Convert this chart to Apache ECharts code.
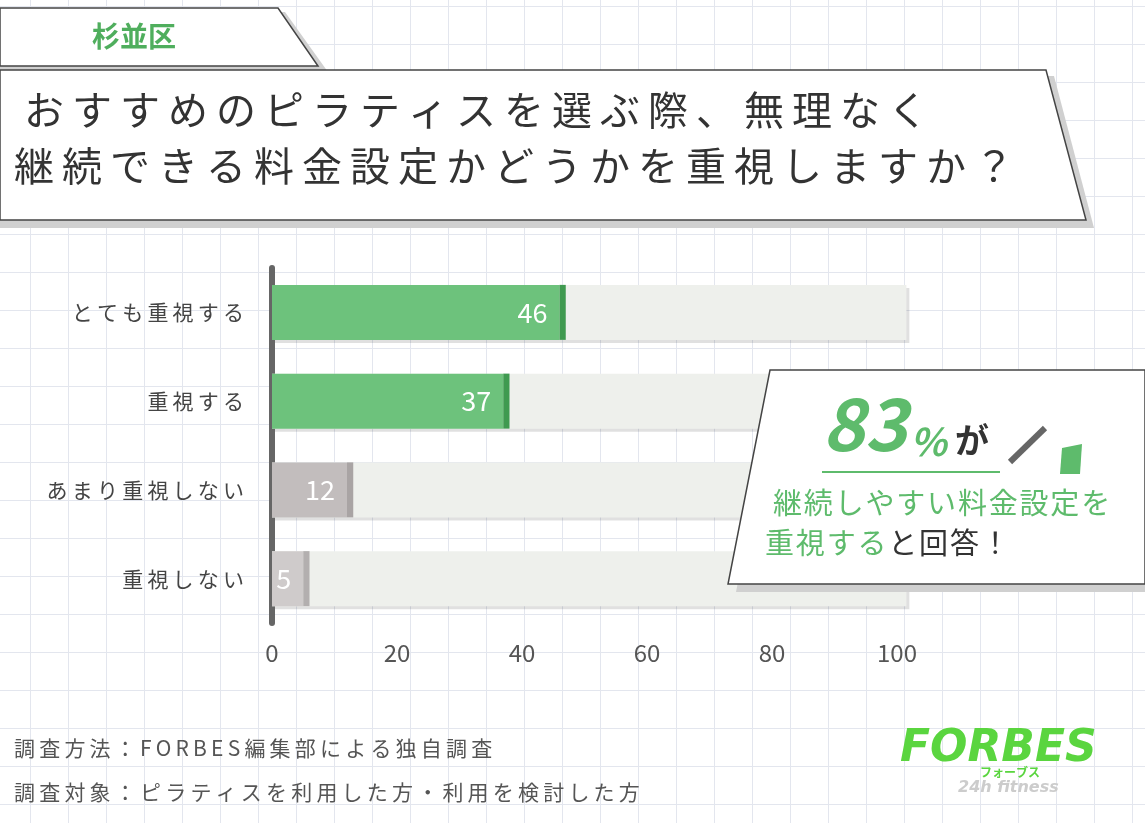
<!DOCTYPE html>
<html><head><meta charset="utf-8">
<script src="https://cdn.jsdelivr.net/npm/echarts@6/dist/echarts.min.js"></script>
<style>
html,body{margin:0;padding:0;}
#c{width:1145px;height:823px;background-color:#fff;
background-image:linear-gradient(#e3e6ee 1px,transparent 1px),linear-gradient(90deg,#e3e6ee 1px,transparent 1px);
background-size:38px 38px;background-position:-8px 6px;}
</style></head><body><div id="c"></div>
<script>
const categories=['とても重視する','重視する','あまり重視しない','重視しない'];
const values=[46,37,12,5];
const totals=[100,100,100,100];
const ticks=[0,20,40,60,80,100];
const fill=['#6dc27c','#6dc27c','#c2bdbd','#cfcbcb'];
const cap=['#3f9a50','#3f9a50','#a9a4a4','#b3afaf'];
const ch=echarts.init(document.getElementById('c'));
const F='"Noto Sans CJK JP"';
const sp=s=>Array.from(s).join('\u2009');
const hs=s=>Array.from(s).join('\u200A');
const G=(o)=>Object.assign({z:100},o);
ch.setOption({
 animation:false,
 grid:{left:272,right:248,top:268,bottom:200},
 xAxis:{type:'value',min:0,max:100,interval:20,splitLine:{show:false},axisLine:{show:false},axisTick:{show:false},
  axisLabel:{fontFamily:F,fontSize:24,color:'#555',margin:18}},
 yAxis:{type:'category',inverse:true,data:categories,
  axisLine:{lineStyle:{color:'#666',width:6}},axisTick:{show:false},
  axisLabel:{fontFamily:F,fontSize:21,color:'#444',margin:28,formatter:v=>sp(v)}},
 series:[
  {type:'bar',clip:false,data:totals.map(v=>v+1.5),barWidth:55,barGap:'-100%',z:1,silent:true,
   itemStyle:{color:'#eef0ec',shadowColor:'rgba(0,0,0,0.12)',shadowOffsetX:3,shadowOffsetY:3}},
  {type:'bar',stack:'s',barWidth:55,z:2,data:values.map((v,i)=>({value:v,itemStyle:{color:fill[i]}})),
   label:{show:true,position:'insideRight',color:'#fff',fontFamily:F,fontSize:27,distance:12}},
  {type:'bar',stack:'s',barWidth:55,z:2,data:values.map((v,i)=>({value:1,itemStyle:{color:cap[i]}}))}
 ],
 graphic:[
  G({type:'polygon',shape:{points:[[0,12],[285,12],[328,72],[0,72]]},style:{fill:'#d0d0d0'}}),
  G({type:'polygon',shape:{points:[[0,8],[278,8],[318,66],[0,66]]},style:{fill:'#fff',stroke:'#444',lineWidth:1.5}}),
  G({type:'text',left:92,top:22,style:{text:'杉並区',fill:'#4fae5d',font:'bold 28px '+F}}),
  G({type:'polygon',shape:{points:[[0,76],[1054,76],[1094,228],[0,228]]},style:{fill:'#d0d0d0'}}),
  G({type:'polygon',shape:{points:[[0,70],[1046,70],[1086,220],[0,220]]},style:{fill:'#fff',stroke:'#444',lineWidth:1.5}}),
  G({type:'text',left:24,top:90,style:{text:sp('おすすめのピラティスを選ぶ際、無理なく'),fill:'#333',font:'40px '+F}}),
  G({type:'text',left:14,top:146,style:{text:sp('継続できる料金設定かどうかを重視しますか？'),fill:'#333',font:'40px '+F}}),
  G({type:'polygon',shape:{points:[[778,378],[1145,378],[1145,592],[736,592]]},style:{fill:'#d0d0d0'}}),
  G({type:'polygon',shape:{points:[[770,370],[1145,370],[1145,584],[728,584]]},style:{fill:'#fff',stroke:'#444',lineWidth:1.5}}),
  G({type:'text',left:822,top:388,style:{text:'83',fill:'#5ebb6c',font:'italic bold 72px '+F}}),
  G({type:'text',left:910,top:423,style:{text:'%',fill:'#5ebb6c',font:'italic bold 38px '+F}}),
  G({type:'text',left:955,top:423,style:{text:'が',fill:'#333',font:'bold 34px '+F}}),
  G({type:'line',shape:{x1:822,y1:472,x2:1000,y2:472},style:{stroke:'#5ebb6c',lineWidth:2}}),
  G({type:'polygon',shape:{points:[[1062,448],[1082,444],[1080,474],[1060,474]]},style:{fill:'#5ebb6c'}}),
  G({type:'line',shape:{x1:1010,y1:462,x2:1045,y2:428},style:{stroke:'#666',lineWidth:6}}),
  G({type:'text',left:773,top:488,style:{text:hs('継続しやすい料金設定を'),fill:'#5ebb6c',font:'29px '+F}}),
  G({type:'text',left:765,top:528,style:{rich:{g:{fill:'#5ebb6c',font:'29px '+F},k:{fill:'#333',font:'29px '+F}},text:'{g|'+hs('重視する')+'}{k|\u200A'+hs('と回答！')+'}'}}),
  G({type:'text',left:14,top:738,style:{text:sp('調査方法：FORBES編集部による独自調査'),fill:'#555',font:'21px '+F}}),
  G({type:'text',left:14,top:782,style:{text:sp('調査対象：ピラティスを利用した方・利用を検討した方'),fill:'#555',font:'21px '+F}}),
  G({type:'text',left:900,top:728,style:{text:'FORBES',fill:'#5ad53f',font:'italic 900 44px "DejaVu Sans"'}}),
  G({type:'text',left:980,top:766,style:{text:'フォーブス',fill:'#5ad53f',font:'bold 12px '+F}}),
  G({type:'text',left:958,top:780,style:{text:'24h fitness',fill:'#ccc',font:'italic bold 16px "DejaVu Sans"'}})
 ]
});
</script></body></html>
